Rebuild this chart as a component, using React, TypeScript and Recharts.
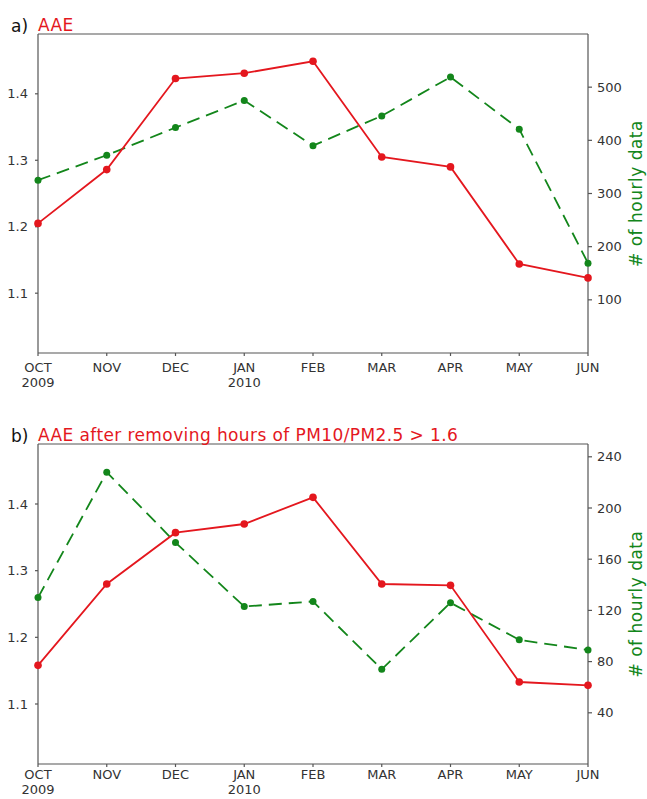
import React from 'react';
import { LineChart, Line, XAxis, YAxis, ReferenceLine } from 'recharts';

const months = ['OCT', 'NOV', 'DEC', 'JAN', 'FEB', 'MAR', 'APR', 'MAY', 'JUN'];
const years = ['2009', '', '', '2010', '', '', '', '', ''];
const aaeA = [1.205, 1.286, 1.423, 1.431, 1.449, 1.305, 1.29, 1.144, 1.123];
const countA = [325, 372, 424, 475, 390, 446, 519, 421, 169];
const aaeB = [1.158, 1.28, 1.357, 1.37, 1.41, 1.28, 1.278, 1.133, 1.128];
const countB = [130, 228, 173, 123, 127, 74, 126, 97, 89];

const leftTicks = [1.1, 1.2, 1.3, 1.4];
const rightTicksA = [100, 200, 300, 400, 500];
const rightTicksB = [40, 80, 120, 160, 200, 240];

const titleA = 'AAE';
const titleB = 'AAE after removing hours of PM10/PM2.5 > 1.6';
const rightLabel = '# of hourly data';

const RED = '#e4171e';
const GREEN = '#13861b';
const AXIS = '#555';
const TXT = '#333';
const FONT = '"DejaVu Sans", sans-serif';
const LEFT_MAX = 1.49;

const dataA = months.map((m, i) => ({ m, y: years[i], aae: aaeA[i], n: countA[i] }));
const dataB = months.map((m, i) => ({ m, y: years[i], aae: aaeB[i], n: countB[i] }));

const XTick = (props: any) => {
  const { x, y, payload, index } = props;
  const yr = years[index] || '';
  return (
    <text x={x} y={y} textAnchor="middle" fill={TXT} fontSize={13} fontFamily={FONT}>
      <tspan x={x} dy="0.75em">{payload.value}</tspan>
      {yr ? <tspan x={x} dy="1.18em">{yr}</tspan> : null}
    </text>
  );
};

const RightLabel = (props: any) => {
  const vb = props.viewBox || {};
  const cx = 636;
  const cy = vb.y + vb.height / 2;
  return (
    <text
      x={cx}
      y={cy}
      transform={`rotate(-90, ${cx}, ${cy})`}
      textAnchor="middle"
      dominantBaseline="central"
      fill={GREEN}
      fontSize={17}
      letterSpacing={0.5}
      fontFamily={FONT}
    >
      {rightLabel}
    </text>
  );
};

type PanelProps = {
  data: any[];
  height: number;
  top: number;
  xHeight: number;
  rDomain: [number, number];
  rTicks: number[];
  tm: number;
};

const Panel = ({ data, height, top, xHeight, rDomain, rTicks, tm }: PanelProps) => (
  <LineChart width={647} height={height} data={data} margin={{ top, right: 0, left: 0, bottom: 0 }}>
    <XAxis
      dataKey="m"
      xAxisId="b"
      height={xHeight}
      interval={0}
      tick={<XTick />}
      tickSize={3}
      tickMargin={tm}
      stroke={AXIS}
      strokeWidth={1.2}
    />
    <YAxis
      yAxisId="l"
      orientation="left"
      width={38}
      type="number"
      domain={[1.01, LEFT_MAX]}
      ticks={leftTicks}
      allowDataOverflow
      tickFormatter={(v: number) => v.toFixed(1)}
      tickSize={3}
      tickMargin={7}
      stroke={AXIS}
      strokeWidth={1.2}
      tick={{ fill: TXT, fontSize: 13, fontFamily: FONT }}
    />
    <YAxis
      yAxisId="r"
      orientation="right"
      width={59}
      type="number"
      domain={rDomain}
      ticks={rTicks}
      allowDataOverflow
      tickSize={4}
      tickMargin={5}
      stroke={AXIS}
      strokeWidth={1.2}
      tick={{ fill: TXT, fontSize: 13, fontFamily: FONT }}
      label={{ content: <RightLabel /> }}
    />
    <ReferenceLine xAxisId="b" yAxisId="l" y={LEFT_MAX} stroke={AXIS} strokeWidth={1.2} ifOverflow="visible" />
    <Line
      xAxisId="b"
      yAxisId="r"
      dataKey="n"
      stroke={GREEN}
      strokeWidth={1.8}
      strokeDasharray="13 7"
      dot={{ r: 3.5, fill: GREEN, stroke: GREEN, strokeWidth: 0 }}
      isAnimationActive={false}
    />
    <Line
      xAxisId="b"
      yAxisId="l"
      dataKey="aae"
      stroke={RED}
      strokeWidth={1.8}
      dot={{ r: 3.8, fill: RED, stroke: RED, strokeWidth: 0 }}
      isAnimationActive={false}
    />
  </LineChart>
);

export default function App() {
  return (
    <div style={{ position: 'absolute', left: 0, top: 0, width: 647, height: 799, background: '#fff' }}>
      <div style={{ position: 'absolute', left: 0, top: 0 }}>
        <Panel data={dataA} height={400} top={34} xHeight={47} rDomain={[0, 600]} rTicks={rightTicksA} tm={6} />
      </div>
      <div style={{ position: 'absolute', left: 0, top: 400 }}>
        <Panel data={dataB} height={399} top={44} xHeight={35} rDomain={[0, 250]} rTicks={rightTicksB} tm={2} />
      </div>
      <svg
        width={647}
        height={799}
        style={{ position: 'absolute', left: 0, top: 0, pointerEvents: 'none' }}
      >
        <text x={11} y={32} fontSize={17} fontFamily={FONT} fill="#111">a)</text>
        <text x={38} y={31} fontSize={17} fontFamily={FONT} fill={RED} letterSpacing={0.4}>{titleA}</text>
        <text x={11} y={442} fontSize={17} fontFamily={FONT} fill="#111">b)</text>
        <text x={38} y={441} fontSize={17} fontFamily={FONT} fill={RED} letterSpacing={0.4}>{titleB}</text>
      </svg>
    </div>
  );
}
